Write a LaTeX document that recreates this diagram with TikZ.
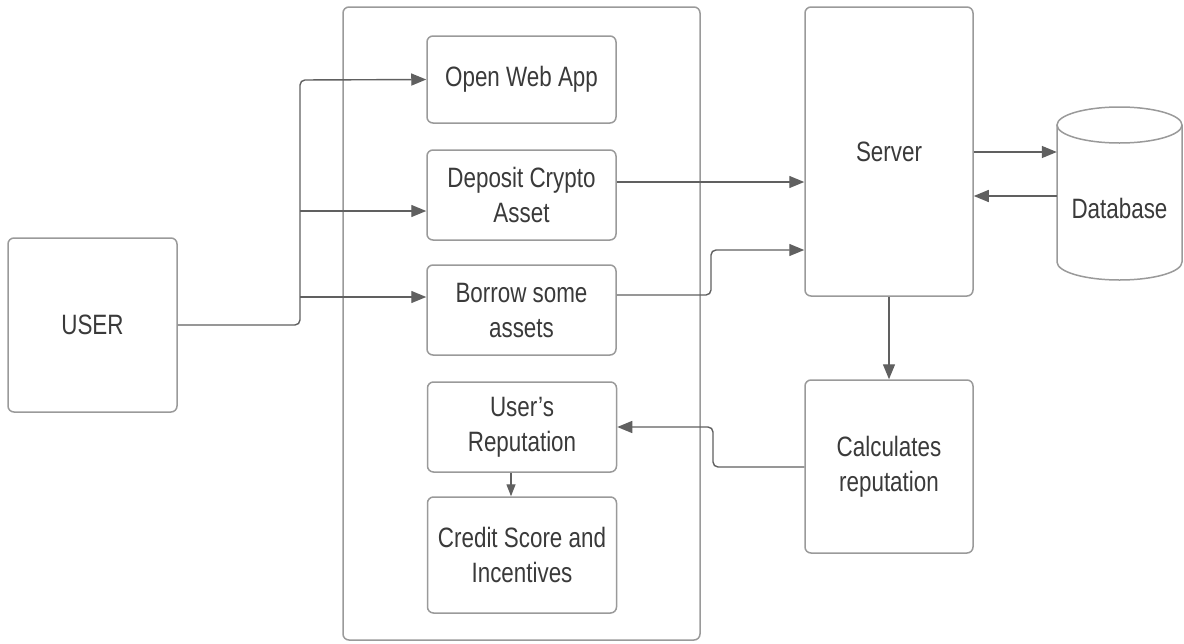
\documentclass[tikz,border=0pt]{standalone}
\usepackage{fontspec}
\setmainfont{Liberation Sans}[FakeStretch=0.8]
\usetikzlibrary{arrows.meta,calc}
\definecolor{boxline}{HTML}{9A9A9A}
\definecolor{conn}{HTML}{606060}
\definecolor{txt}{HTML}{3A3A3A}
\begin{document}
\begin{tikzpicture}[x=1pt,y=-1pt,
  box/.style={draw=boxline,line width=1.5pt,rounded corners=6pt,fill=white,
     text=txt,align=center,inner sep=2pt,font=\fontsize{28}{35}\selectfont},
  conn/.style={draw=conn,line width=1.4pt,rounded corners=5pt,
     -{Triangle[length=15pt,width=12pt]}},
  small/.style={draw=conn,line width=1.4pt,-{Triangle[length=12pt,width=9pt]}}]
\useasboundingbox (0,0) rectangle (1184,643);
\node[box,minimum width=357pt,minimum height=633pt] (cont) at (521.5,323.5) {};
\node[box,minimum width=169pt,minimum height=174pt] (user) at (92.5,325) {USER};
\node[box,minimum width=189pt,minimum height=87pt] (open) at (521.5,79.5) {Open Web App};
\node[box,minimum width=189pt,minimum height=90pt] (dep) at (521.5,195) {Deposit Crypto\\Asset};
\node[box,minimum width=189pt,minimum height=90pt] (bor) at (521.5,310) {Borrow some\\assets};
\node[box,minimum width=189pt,minimum height=90pt] (rep) at (522,427) {User's\\Reputation};
\node[box,minimum width=189pt,minimum height=116pt] (cred) at (522,555) {Credit Score and\\Incentives};
\node[box,minimum width=168pt,minimum height=289pt] (srv) at (889,151.5) {Server};
\node[box,minimum width=168pt,minimum height=173pt] (calc) at (889,466.5) {Calculates\\reputation};
% database cylinder
\draw[draw=boxline,line width=1.5pt,fill=white]
  (1057,125) -- (1057,262) arc[start angle=180,end angle=360,x radius=62.5pt,y radius=18pt]
  -- (1182,125);
\draw[draw=boxline,line width=1.5pt,fill=white] (1119.5,125) ellipse[x radius=62.5pt,y radius=18pt];
\node[minimum width=125pt,minimum height=173pt,inner sep=0pt] (db) at (1119.5,193.5) {};
\node[text=txt,font=\fontsize{28}{35}\selectfont] (dbl) at (1119.5,208) {Database};
% connectors
\draw[conn] (user.east) -- (300,325) -- (300,80) -- (open.west);
\draw[conn] (300,211) -- (dep.west |- 0,211);
\draw[conn] (300,297) -- (bor.west |- 0,297);
\draw[conn] (dep.east |- 0,182) -- (srv.west |- 0,182);
\draw[conn] (bor.east |- 0,295) -- (711,295) -- (711,250) -- (srv.west |- 0,250);
\draw[conn] (srv.east |- 0,152) -- (db.west |- 0,152);
\draw[conn] (db.west |- 0,196) -- (srv.east |- 0,196);
\draw[conn] (srv.south) -- (calc.north);
\draw[conn] (calc.west |- 0,467) -- (713,467) -- (713,427) -- (rep.east);
\draw[small] ([xshift=-11pt]rep.south) -- ([xshift=-11pt]cred.north);
\end{tikzpicture}
\end{document}
